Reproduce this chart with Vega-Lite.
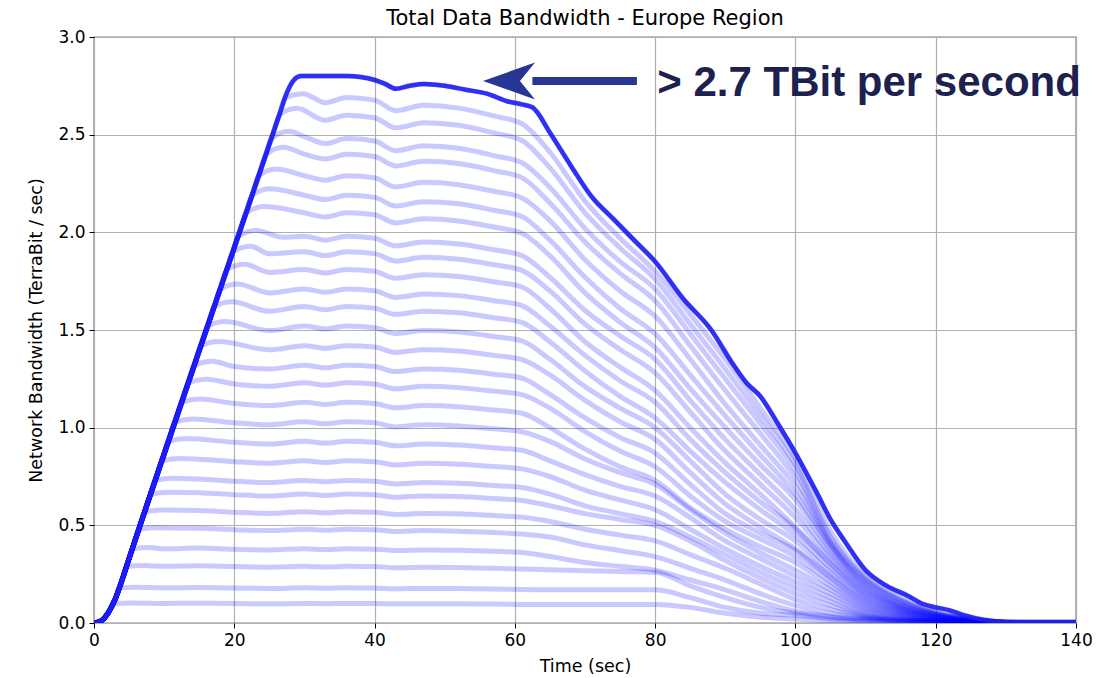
{
"$schema": "https://vega.github.io/schema/vega-lite/v6.json",
"width": 982, "height": 586,
"autosize": {"type": "none"},
"padding": {"left": 94, "top": 37, "right": 42, "bottom": 55},
"background": "white",
"title": {"text": "Total Data Bandwidth - Europe Region", "font": "DejaVu Sans", "fontSize": 21, "fontWeight": "normal", "color": "#000", "offset": 8, "dy": 9},
"config": {
 "view": {"stroke": "#000", "strokeWidth": 1.2},
 "axis": {"labelFont": "DejaVu Sans", "labelFontSize": 17, "labelColor": "#000", "titleFont": "DejaVu Sans", "titleFontSize": 17.5, "titleFontWeight": "normal", "titleColor": "#000", "tickColor": "#000", "tickSize": 5, "domain": false, "gridColor": "#b0b0b0", "gridWidth": 1.2, "labelPadding": 4, "labelFlush": false, "labelOverlap": false}
},
"datasets": {"lines": [
{"k":1,"t":0,"y":0},{"k":1,"t":1,"y":0.01},{"k":1,"t":2,"y":0.05},{"k":1,"t":2.7,"y":0.1},{"k":1,"t":5.2,"y":0.102},{"k":1,"t":10,"y":0.1},{"k":1,"t":15,"y":0.101},{"k":1,"t":20,"y":0.1},{"k":1,"t":25,"y":0.098},{"k":1,"t":30,"y":0.1},{"k":1,"t":33,"y":0.099},{"k":1,"t":36,"y":0.1},{"k":1,"t":40,"y":0.1},{"k":1,"t":43,"y":0.098},{"k":1,"t":47,"y":0.099},{"k":1,"t":52,"y":0.098},{"k":1,"t":57,"y":0.097},{"k":1,"t":61,"y":0.095},{"k":1,"t":65,"y":0.095},{"k":1,"t":70,"y":0.095},{"k":1,"t":75,"y":0.095},{"k":1,"t":80,"y":0.095},{"k":1,"t":85,"y":0.08},{"k":1,"t":90,"y":0.05},{"k":1,"t":95,"y":0.03},{"k":1,"t":100,"y":0.02},{"k":1,"t":105,"y":0.012},{"k":1,"t":110,"y":0.006},{"k":1,"t":115,"y":0.003},{"k":1,"t":120,"y":0.002},{"k":1,"t":125,"y":0.002},{"k":1,"t":130,"y":0.003},{"k":1,"t":140,"y":0.003},
{"k":2,"t":0,"y":0},{"k":2,"t":1,"y":0.01},{"k":2,"t":2,"y":0.05},{"k":2,"t":3,"y":0.12},{"k":2,"t":3.6,"y":0.18},{"k":2,"t":6.1,"y":0.183},{"k":2,"t":10,"y":0.18},{"k":2,"t":15,"y":0.182},{"k":2,"t":20,"y":0.179},{"k":2,"t":25,"y":0.177},{"k":2,"t":30,"y":0.18},{"k":2,"t":33,"y":0.178},{"k":2,"t":36,"y":0.18},{"k":2,"t":40,"y":0.179},{"k":2,"t":43,"y":0.175},{"k":2,"t":47,"y":0.177},{"k":2,"t":52,"y":0.176},{"k":2,"t":57,"y":0.174},{"k":2,"t":61,"y":0.171},{"k":2,"t":65,"y":0.17},{"k":2,"t":70,"y":0.17},{"k":2,"t":75,"y":0.17},{"k":2,"t":80,"y":0.17},{"k":2,"t":85,"y":0.13},{"k":2,"t":90,"y":0.08},{"k":2,"t":95,"y":0.05},{"k":2,"t":100,"y":0.04},{"k":2,"t":105,"y":0.02},{"k":2,"t":110,"y":0.01},{"k":2,"t":115,"y":0.005},{"k":2,"t":120,"y":0.003},{"k":2,"t":125,"y":0.002},{"k":2,"t":130,"y":0.003},{"k":2,"t":140,"y":0.003},
{"k":3,"t":0,"y":0},{"k":3,"t":1,"y":0.01},{"k":3,"t":2,"y":0.05},{"k":3,"t":3,"y":0.12},{"k":3,"t":4,"y":0.22},{"k":3,"t":4.64,"y":0.29},{"k":3,"t":7.1,"y":0.294},{"k":3,"t":10,"y":0.29},{"k":3,"t":15,"y":0.293},{"k":3,"t":20,"y":0.289},{"k":3,"t":25,"y":0.286},{"k":3,"t":30,"y":0.29},{"k":3,"t":33,"y":0.287},{"k":3,"t":36,"y":0.29},{"k":3,"t":40,"y":0.289},{"k":3,"t":43,"y":0.283},{"k":3,"t":47,"y":0.286},{"k":3,"t":52,"y":0.284},{"k":3,"t":57,"y":0.28},{"k":3,"t":61,"y":0.276},{"k":3,"t":65,"y":0.272},{"k":3,"t":70,"y":0.268},{"k":3,"t":75,"y":0.264},{"k":3,"t":80,"y":0.26},{"k":3,"t":85,"y":0.19},{"k":3,"t":90,"y":0.13},{"k":3,"t":95,"y":0.08},{"k":3,"t":100,"y":0.05},{"k":3,"t":105,"y":0.03},{"k":3,"t":110,"y":0.015},{"k":3,"t":115,"y":0.008},{"k":3,"t":120,"y":0.004},{"k":3,"t":125,"y":0.002},{"k":3,"t":130,"y":0.003},{"k":3,"t":140,"y":0.003},
{"k":4,"t":0,"y":0},{"k":4,"t":1,"y":0.01},{"k":4,"t":2,"y":0.05},{"k":4,"t":3,"y":0.12},{"k":4,"t":4,"y":0.22},{"k":4,"t":5,"y":0.33},{"k":4,"t":5.47,"y":0.38},{"k":4,"t":8,"y":0.386},{"k":4,"t":10,"y":0.38},{"k":4,"t":15,"y":0.384},{"k":4,"t":20,"y":0.378},{"k":4,"t":25,"y":0.374},{"k":4,"t":30,"y":0.38},{"k":4,"t":33,"y":0.376},{"k":4,"t":36,"y":0.38},{"k":4,"t":40,"y":0.378},{"k":4,"t":43,"y":0.371},{"k":4,"t":47,"y":0.374},{"k":4,"t":52,"y":0.372},{"k":4,"t":57,"y":0.367},{"k":4,"t":61,"y":0.361},{"k":4,"t":65,"y":0.34},{"k":4,"t":70,"y":0.31},{"k":4,"t":75,"y":0.29},{"k":4,"t":80,"y":0.27},{"k":4,"t":85,"y":0.22},{"k":4,"t":90,"y":0.17},{"k":4,"t":95,"y":0.11},{"k":4,"t":100,"y":0.06},{"k":4,"t":105,"y":0.035},{"k":4,"t":110,"y":0.02},{"k":4,"t":115,"y":0.01},{"k":4,"t":120,"y":0.005},{"k":4,"t":125,"y":0.002},{"k":4,"t":130,"y":0.003},{"k":4,"t":140,"y":0.003},
{"k":5,"t":0,"y":0},{"k":5,"t":1,"y":0.01},{"k":5,"t":2,"y":0.05},{"k":5,"t":3,"y":0.12},{"k":5,"t":4,"y":0.22},{"k":5,"t":5,"y":0.33},{"k":5,"t":5.42,"y":0.374},{"k":5,"t":6.42,"y":0.48},{"k":5,"t":8.9,"y":0.487},{"k":5,"t":15,"y":0.485},{"k":5,"t":20,"y":0.478},{"k":5,"t":25,"y":0.473},{"k":5,"t":30,"y":0.48},{"k":5,"t":33,"y":0.475},{"k":5,"t":36,"y":0.48},{"k":5,"t":40,"y":0.478},{"k":5,"t":43,"y":0.468},{"k":5,"t":47,"y":0.473},{"k":5,"t":52,"y":0.47},{"k":5,"t":57,"y":0.463},{"k":5,"t":61,"y":0.456},{"k":5,"t":65,"y":0.44},{"k":5,"t":70,"y":0.4},{"k":5,"t":75,"y":0.37},{"k":5,"t":80,"y":0.34},{"k":5,"t":85,"y":0.28},{"k":5,"t":90,"y":0.22},{"k":5,"t":95,"y":0.15},{"k":5,"t":100,"y":0.09},{"k":5,"t":105,"y":0.05},{"k":5,"t":110,"y":0.025},{"k":5,"t":115,"y":0.012},{"k":5,"t":120,"y":0.006},{"k":5,"t":125,"y":0.002},{"k":5,"t":130,"y":0.003},{"k":5,"t":140,"y":0.003},
{"k":6,"t":0,"y":0},{"k":6,"t":1,"y":0.01},{"k":6,"t":2,"y":0.05},{"k":6,"t":3,"y":0.12},{"k":6,"t":4,"y":0.22},{"k":6,"t":5,"y":0.33},{"k":6,"t":6.26,"y":0.464},{"k":6,"t":7.26,"y":0.57},{"k":6,"t":9.8,"y":0.579},{"k":6,"t":15,"y":0.576},{"k":6,"t":20,"y":0.567},{"k":6,"t":25,"y":0.561},{"k":6,"t":30,"y":0.57},{"k":6,"t":33,"y":0.564},{"k":6,"t":36,"y":0.57},{"k":6,"t":40,"y":0.567},{"k":6,"t":43,"y":0.556},{"k":6,"t":47,"y":0.561},{"k":6,"t":52,"y":0.559},{"k":6,"t":57,"y":0.55},{"k":6,"t":61,"y":0.542},{"k":6,"t":65,"y":0.52},{"k":6,"t":70,"y":0.48},{"k":6,"t":75,"y":0.45},{"k":6,"t":80,"y":0.42},{"k":6,"t":85,"y":0.35},{"k":6,"t":90,"y":0.28},{"k":6,"t":95,"y":0.2},{"k":6,"t":100,"y":0.12},{"k":6,"t":105,"y":0.07},{"k":6,"t":110,"y":0.03},{"k":6,"t":115,"y":0.015},{"k":6,"t":120,"y":0.007},{"k":6,"t":125,"y":0.003},{"k":6,"t":130,"y":0.003},{"k":6,"t":140,"y":0.003},
{"k":7,"t":0,"y":0},{"k":7,"t":1,"y":0.01},{"k":7,"t":2,"y":0.05},{"k":7,"t":3,"y":0.12},{"k":7,"t":4,"y":0.22},{"k":7,"t":5,"y":0.33},{"k":7,"t":7.11,"y":0.554},{"k":7,"t":8.11,"y":0.66},{"k":7,"t":10.6,"y":0.67},{"k":7,"t":15,"y":0.667},{"k":7,"t":20,"y":0.657},{"k":7,"t":25,"y":0.65},{"k":7,"t":30,"y":0.66},{"k":7,"t":33,"y":0.653},{"k":7,"t":36,"y":0.66},{"k":7,"t":40,"y":0.657},{"k":7,"t":43,"y":0.644},{"k":7,"t":47,"y":0.65},{"k":7,"t":52,"y":0.647},{"k":7,"t":57,"y":0.637},{"k":7,"t":61,"y":0.627},{"k":7,"t":65,"y":0.6},{"k":7,"t":70,"y":0.56},{"k":7,"t":75,"y":0.53},{"k":7,"t":80,"y":0.5},{"k":7,"t":85,"y":0.42},{"k":7,"t":90,"y":0.32},{"k":7,"t":95,"y":0.23},{"k":7,"t":100,"y":0.15},{"k":7,"t":105,"y":0.09},{"k":7,"t":110,"y":0.035},{"k":7,"t":115,"y":0.018},{"k":7,"t":120,"y":0.008},{"k":7,"t":125,"y":0.003},{"k":7,"t":130,"y":0.003},{"k":7,"t":140,"y":0.003},
{"k":8,"t":0,"y":0},{"k":8,"t":1,"y":0.01},{"k":8,"t":2,"y":0.05},{"k":8,"t":3,"y":0.12},{"k":8,"t":4,"y":0.22},{"k":8,"t":5,"y":0.33},{"k":8,"t":7.77,"y":0.624},{"k":8,"t":8.77,"y":0.73},{"k":8,"t":11.3,"y":0.741},{"k":8,"t":15,"y":0.737},{"k":8,"t":20,"y":0.726},{"k":8,"t":25,"y":0.719},{"k":8,"t":30,"y":0.73},{"k":8,"t":33,"y":0.723},{"k":8,"t":36,"y":0.73},{"k":8,"t":40,"y":0.726},{"k":8,"t":43,"y":0.712},{"k":8,"t":47,"y":0.719},{"k":8,"t":52,"y":0.715},{"k":8,"t":57,"y":0.704},{"k":8,"t":61,"y":0.694},{"k":8,"t":65,"y":0.66},{"k":8,"t":70,"y":0.6},{"k":8,"t":75,"y":0.56},{"k":8,"t":80,"y":0.52},{"k":8,"t":85,"y":0.44},{"k":8,"t":90,"y":0.35},{"k":8,"t":95,"y":0.26},{"k":8,"t":100,"y":0.18},{"k":8,"t":105,"y":0.11},{"k":8,"t":110,"y":0.04},{"k":8,"t":115,"y":0.02},{"k":8,"t":120,"y":0.009},{"k":8,"t":125,"y":0.003},{"k":8,"t":130,"y":0.003},{"k":8,"t":140,"y":0.003},
{"k":9,"t":0,"y":0},{"k":9,"t":1,"y":0.01},{"k":9,"t":2,"y":0.05},{"k":9,"t":3,"y":0.12},{"k":9,"t":4,"y":0.22},{"k":9,"t":5,"y":0.33},{"k":9,"t":8.72,"y":0.724},{"k":9,"t":9.72,"y":0.83},{"k":9,"t":12.2,"y":0.842},{"k":9,"t":15,"y":0.838},{"k":9,"t":20,"y":0.826},{"k":9,"t":25,"y":0.818},{"k":9,"t":30,"y":0.83},{"k":9,"t":33,"y":0.822},{"k":9,"t":36,"y":0.83},{"k":9,"t":40,"y":0.826},{"k":9,"t":43,"y":0.809},{"k":9,"t":47,"y":0.818},{"k":9,"t":52,"y":0.813},{"k":9,"t":57,"y":0.801},{"k":9,"t":61,"y":0.789},{"k":9,"t":65,"y":0.75},{"k":9,"t":70,"y":0.68},{"k":9,"t":75,"y":0.63},{"k":9,"t":80,"y":0.58},{"k":9,"t":85,"y":0.48},{"k":9,"t":90,"y":0.38},{"k":9,"t":95,"y":0.29},{"k":9,"t":100,"y":0.21},{"k":9,"t":105,"y":0.13},{"k":9,"t":110,"y":0.05},{"k":9,"t":115,"y":0.025},{"k":9,"t":120,"y":0.01},{"k":9,"t":125,"y":0.004},{"k":9,"t":130,"y":0.003},{"k":9,"t":140,"y":0.003},
{"k":10,"t":0,"y":0},{"k":10,"t":1,"y":0.01},{"k":10,"t":2,"y":0.05},{"k":10,"t":3,"y":0.12},{"k":10,"t":4,"y":0.22},{"k":10,"t":5,"y":0.33},{"k":10,"t":9.66,"y":0.824},{"k":10,"t":10.66,"y":0.93},{"k":10,"t":13.2,"y":0.944},{"k":10,"t":20,"y":0.925},{"k":10,"t":25,"y":0.916},{"k":10,"t":30,"y":0.93},{"k":10,"t":33,"y":0.921},{"k":10,"t":36,"y":0.93},{"k":10,"t":40,"y":0.925},{"k":10,"t":43,"y":0.907},{"k":10,"t":47,"y":0.916},{"k":10,"t":52,"y":0.911},{"k":10,"t":57,"y":0.897},{"k":10,"t":61,"y":0.884},{"k":10,"t":65,"y":0.83},{"k":10,"t":70,"y":0.76},{"k":10,"t":75,"y":0.7},{"k":10,"t":80,"y":0.65},{"k":10,"t":85,"y":0.54},{"k":10,"t":90,"y":0.42},{"k":10,"t":95,"y":0.33},{"k":10,"t":100,"y":0.24},{"k":10,"t":105,"y":0.15},{"k":10,"t":110,"y":0.06},{"k":10,"t":115,"y":0.03},{"k":10,"t":120,"y":0.012},{"k":10,"t":125,"y":0.004},{"k":10,"t":130,"y":0.003},{"k":10,"t":140,"y":0.003},
{"k":11,"t":0,"y":0},{"k":11,"t":1,"y":0.01},{"k":11,"t":2,"y":0.05},{"k":11,"t":3,"y":0.12},{"k":11,"t":4,"y":0.22},{"k":11,"t":5,"y":0.33},{"k":11,"t":10.6,"y":0.924},{"k":11,"t":11.6,"y":1.03},{"k":11,"t":14.1,"y":1.045},{"k":11,"t":20,"y":1.025},{"k":11,"t":25,"y":1.015},{"k":11,"t":30,"y":1.03},{"k":11,"t":33,"y":1.02},{"k":11,"t":36,"y":1.03},{"k":11,"t":40,"y":1.025},{"k":11,"t":43,"y":1.004},{"k":11,"t":47,"y":1.015},{"k":11,"t":52,"y":1.009},{"k":11,"t":57,"y":0.994},{"k":11,"t":61,"y":0.979},{"k":11,"t":65,"y":0.93},{"k":11,"t":70,"y":0.84},{"k":11,"t":75,"y":0.77},{"k":11,"t":80,"y":0.71},{"k":11,"t":85,"y":0.58},{"k":11,"t":90,"y":0.46},{"k":11,"t":95,"y":0.36},{"k":11,"t":100,"y":0.27},{"k":11,"t":105,"y":0.17},{"k":11,"t":110,"y":0.07},{"k":11,"t":115,"y":0.035},{"k":11,"t":120,"y":0.014},{"k":11,"t":125,"y":0.005},{"k":11,"t":130,"y":0.003},{"k":11,"t":140,"y":0.003},
{"k":12,"t":0,"y":0},{"k":12,"t":1,"y":0.01},{"k":12,"t":2,"y":0.05},{"k":12,"t":3,"y":0.12},{"k":12,"t":4,"y":0.22},{"k":12,"t":5,"y":0.33},{"k":12,"t":11.55,"y":1.024},{"k":12,"t":12.55,"y":1.13},{"k":12,"t":15.05,"y":1.147},{"k":12,"t":20,"y":1.124},{"k":12,"t":25,"y":1.113},{"k":12,"t":30,"y":1.13},{"k":12,"t":33,"y":1.119},{"k":12,"t":36,"y":1.13},{"k":12,"t":40,"y":1.124},{"k":12,"t":43,"y":1.102},{"k":12,"t":47,"y":1.113},{"k":12,"t":52,"y":1.107},{"k":12,"t":57,"y":1.09},{"k":12,"t":61,"y":1.074},{"k":12,"t":65,"y":1.0},{"k":12,"t":70,"y":0.89},{"k":12,"t":75,"y":0.8},{"k":12,"t":80,"y":0.73},{"k":12,"t":85,"y":0.59},{"k":12,"t":90,"y":0.48},{"k":12,"t":95,"y":0.39},{"k":12,"t":100,"y":0.31},{"k":12,"t":105,"y":0.19},{"k":12,"t":110,"y":0.08},{"k":12,"t":115,"y":0.04},{"k":12,"t":120,"y":0.016},{"k":12,"t":125,"y":0.006},{"k":12,"t":130,"y":0.003},{"k":12,"t":140,"y":0.003},
{"k":13,"t":0,"y":0},{"k":13,"t":1,"y":0.01},{"k":13,"t":2,"y":0.05},{"k":13,"t":3,"y":0.12},{"k":13,"t":4,"y":0.22},{"k":13,"t":5,"y":0.33},{"k":13,"t":12.49,"y":1.124},{"k":13,"t":13.49,"y":1.23},{"k":13,"t":16,"y":1.248},{"k":13,"t":20,"y":1.224},{"k":13,"t":25,"y":1.212},{"k":13,"t":30,"y":1.23},{"k":13,"t":33,"y":1.218},{"k":13,"t":36,"y":1.23},{"k":13,"t":40,"y":1.224},{"k":13,"t":43,"y":1.199},{"k":13,"t":47,"y":1.212},{"k":13,"t":52,"y":1.205},{"k":13,"t":57,"y":1.187},{"k":13,"t":61,"y":1.169},{"k":13,"t":65,"y":1.1},{"k":13,"t":70,"y":0.98},{"k":13,"t":75,"y":0.88},{"k":13,"t":80,"y":0.8},{"k":13,"t":85,"y":0.65},{"k":13,"t":90,"y":0.52},{"k":13,"t":95,"y":0.43},{"k":13,"t":100,"y":0.34},{"k":13,"t":105,"y":0.21},{"k":13,"t":110,"y":0.09},{"k":13,"t":115,"y":0.045},{"k":13,"t":120,"y":0.018},{"k":13,"t":125,"y":0.006},{"k":13,"t":130,"y":0.003},{"k":13,"t":140,"y":0.003},
{"k":14,"t":0,"y":0},{"k":14,"t":1,"y":0.01},{"k":14,"t":2,"y":0.05},{"k":14,"t":3,"y":0.12},{"k":14,"t":4,"y":0.22},{"k":14,"t":5,"y":0.33},{"k":14,"t":13.34,"y":1.214},{"k":14,"t":14.34,"y":1.32},{"k":14,"t":16.84,"y":1.34},{"k":14,"t":20,"y":1.313},{"k":14,"t":25,"y":1.3},{"k":14,"t":30,"y":1.32},{"k":14,"t":33,"y":1.307},{"k":14,"t":36,"y":1.32},{"k":14,"t":40,"y":1.313},{"k":14,"t":43,"y":1.287},{"k":14,"t":47,"y":1.3},{"k":14,"t":52,"y":1.294},{"k":14,"t":57,"y":1.274},{"k":14,"t":61,"y":1.254},{"k":14,"t":65,"y":1.17},{"k":14,"t":70,"y":1.05},{"k":14,"t":75,"y":0.95},{"k":14,"t":80,"y":0.87},{"k":14,"t":85,"y":0.71},{"k":14,"t":90,"y":0.56},{"k":14,"t":95,"y":0.46},{"k":14,"t":100,"y":0.37},{"k":14,"t":105,"y":0.23},{"k":14,"t":110,"y":0.1},{"k":14,"t":115,"y":0.05},{"k":14,"t":120,"y":0.02},{"k":14,"t":125,"y":0.007},{"k":14,"t":130,"y":0.003},{"k":14,"t":140,"y":0.003},
{"k":15,"t":0,"y":0},{"k":15,"t":1,"y":0.01},{"k":15,"t":2,"y":0.05},{"k":15,"t":3,"y":0.12},{"k":15,"t":4,"y":0.22},{"k":15,"t":5,"y":0.33},{"k":15,"t":14.28,"y":1.314},{"k":15,"t":15.28,"y":1.42},{"k":15,"t":17.8,"y":1.441},{"k":15,"t":25,"y":1.399},{"k":15,"t":30,"y":1.42},{"k":15,"t":33,"y":1.406},{"k":15,"t":36,"y":1.42},{"k":15,"t":40,"y":1.413},{"k":15,"t":43,"y":1.385},{"k":15,"t":47,"y":1.399},{"k":15,"t":52,"y":1.392},{"k":15,"t":57,"y":1.37},{"k":15,"t":61,"y":1.349},{"k":15,"t":65,"y":1.27},{"k":15,"t":70,"y":1.14},{"k":15,"t":75,"y":1.03},{"k":15,"t":80,"y":0.94},{"k":15,"t":85,"y":0.77},{"k":15,"t":90,"y":0.61},{"k":15,"t":95,"y":0.49},{"k":15,"t":100,"y":0.38},{"k":15,"t":105,"y":0.24},{"k":15,"t":110,"y":0.11},{"k":15,"t":115,"y":0.055},{"k":15,"t":120,"y":0.022},{"k":15,"t":125,"y":0.008},{"k":15,"t":130,"y":0.003},{"k":15,"t":140,"y":0.003},
{"k":16,"t":0,"y":0},{"k":16,"t":1,"y":0.01},{"k":16,"t":2,"y":0.05},{"k":16,"t":3,"y":0.12},{"k":16,"t":4,"y":0.22},{"k":16,"t":5,"y":0.33},{"k":16,"t":15.23,"y":1.414},{"k":16,"t":16.23,"y":1.52},{"k":16,"t":18.7,"y":1.543},{"k":16,"t":25,"y":1.497},{"k":16,"t":30,"y":1.52},{"k":16,"t":33,"y":1.505},{"k":16,"t":36,"y":1.52},{"k":16,"t":40,"y":1.512},{"k":16,"t":43,"y":1.482},{"k":16,"t":47,"y":1.497},{"k":16,"t":52,"y":1.49},{"k":16,"t":57,"y":1.467},{"k":16,"t":61,"y":1.444},{"k":16,"t":65,"y":1.35},{"k":16,"t":70,"y":1.21},{"k":16,"t":75,"y":1.1},{"k":16,"t":80,"y":1.0},{"k":16,"t":85,"y":0.83},{"k":16,"t":90,"y":0.66},{"k":16,"t":95,"y":0.53},{"k":16,"t":100,"y":0.42},{"k":16,"t":105,"y":0.26},{"k":16,"t":110,"y":0.12},{"k":16,"t":115,"y":0.06},{"k":16,"t":120,"y":0.025},{"k":16,"t":125,"y":0.009},{"k":16,"t":130,"y":0.003},{"k":16,"t":140,"y":0.003},
{"k":17,"t":0,"y":0},{"k":17,"t":1,"y":0.01},{"k":17,"t":2,"y":0.05},{"k":17,"t":3,"y":0.12},{"k":17,"t":4,"y":0.22},{"k":17,"t":5,"y":0.33},{"k":17,"t":16.17,"y":1.514},{"k":17,"t":17.17,"y":1.62},{"k":17,"t":19.7,"y":1.644},{"k":17,"t":25,"y":1.596},{"k":17,"t":30,"y":1.62},{"k":17,"t":33,"y":1.604},{"k":17,"t":36,"y":1.62},{"k":17,"t":40,"y":1.612},{"k":17,"t":43,"y":1.58},{"k":17,"t":47,"y":1.596},{"k":17,"t":52,"y":1.588},{"k":17,"t":57,"y":1.563},{"k":17,"t":61,"y":1.539},{"k":17,"t":65,"y":1.44},{"k":17,"t":70,"y":1.29},{"k":17,"t":75,"y":1.16},{"k":17,"t":80,"y":1.05},{"k":17,"t":85,"y":0.88},{"k":17,"t":90,"y":0.72},{"k":17,"t":95,"y":0.58},{"k":17,"t":100,"y":0.45},{"k":17,"t":105,"y":0.28},{"k":17,"t":110,"y":0.13},{"k":17,"t":115,"y":0.065},{"k":17,"t":120,"y":0.028},{"k":17,"t":125,"y":0.01},{"k":17,"t":130,"y":0.003},{"k":17,"t":140,"y":0.003},
{"k":18,"t":0,"y":0},{"k":18,"t":1,"y":0.01},{"k":18,"t":2,"y":0.05},{"k":18,"t":3,"y":0.12},{"k":18,"t":4,"y":0.22},{"k":18,"t":5,"y":0.33},{"k":18,"t":17.02,"y":1.604},{"k":18,"t":18.02,"y":1.71},{"k":18,"t":20.5,"y":1.736},{"k":18,"t":25,"y":1.69},{"k":18,"t":30,"y":1.71},{"k":18,"t":33,"y":1.693},{"k":18,"t":36,"y":1.71},{"k":18,"t":40,"y":1.701},{"k":18,"t":43,"y":1.667},{"k":18,"t":47,"y":1.684},{"k":18,"t":52,"y":1.676},{"k":18,"t":57,"y":1.65},{"k":18,"t":61,"y":1.625},{"k":18,"t":65,"y":1.52},{"k":18,"t":70,"y":1.37},{"k":18,"t":75,"y":1.24},{"k":18,"t":80,"y":1.13},{"k":18,"t":85,"y":0.94},{"k":18,"t":90,"y":0.77},{"k":18,"t":95,"y":0.62},{"k":18,"t":100,"y":0.48},{"k":18,"t":105,"y":0.3},{"k":18,"t":110,"y":0.14},{"k":18,"t":115,"y":0.07},{"k":18,"t":120,"y":0.03},{"k":18,"t":125,"y":0.011},{"k":18,"t":130,"y":0.003},{"k":18,"t":140,"y":0.003},
{"k":19,"t":0,"y":0},{"k":19,"t":1,"y":0.01},{"k":19,"t":2,"y":0.05},{"k":19,"t":3,"y":0.12},{"k":19,"t":4,"y":0.22},{"k":19,"t":5,"y":0.33},{"k":19,"t":17.96,"y":1.704},{"k":19,"t":18.96,"y":1.81},{"k":19,"t":21.5,"y":1.837},{"k":19,"t":25,"y":1.795},{"k":19,"t":30,"y":1.81},{"k":19,"t":33,"y":1.792},{"k":19,"t":36,"y":1.81},{"k":19,"t":40,"y":1.801},{"k":19,"t":43,"y":1.765},{"k":19,"t":47,"y":1.783},{"k":19,"t":52,"y":1.774},{"k":19,"t":57,"y":1.747},{"k":19,"t":61,"y":1.72},{"k":19,"t":65,"y":1.61},{"k":19,"t":70,"y":1.44},{"k":19,"t":75,"y":1.31},{"k":19,"t":80,"y":1.19},{"k":19,"t":85,"y":1.0},{"k":19,"t":90,"y":0.82},{"k":19,"t":95,"y":0.66},{"k":19,"t":100,"y":0.49},{"k":19,"t":105,"y":0.31},{"k":19,"t":110,"y":0.15},{"k":19,"t":115,"y":0.075},{"k":19,"t":120,"y":0.032},{"k":19,"t":125,"y":0.012},{"k":19,"t":130,"y":0.003},{"k":19,"t":140,"y":0.003},
{"k":20,"t":0,"y":0},{"k":20,"t":1,"y":0.01},{"k":20,"t":2,"y":0.05},{"k":20,"t":3,"y":0.12},{"k":20,"t":4,"y":0.22},{"k":20,"t":5,"y":0.33},{"k":20,"t":18.81,"y":1.794},{"k":20,"t":19.81,"y":1.9},{"k":20,"t":22.3,"y":1.929},{"k":20,"t":25,"y":1.89},{"k":20,"t":30,"y":1.9},{"k":20,"t":33,"y":1.881},{"k":20,"t":36,"y":1.9},{"k":20,"t":40,"y":1.891},{"k":20,"t":43,"y":1.853},{"k":20,"t":47,"y":1.872},{"k":20,"t":52,"y":1.862},{"k":20,"t":57,"y":1.834},{"k":20,"t":61,"y":1.805},{"k":20,"t":65,"y":1.7},{"k":20,"t":70,"y":1.53},{"k":20,"t":75,"y":1.4},{"k":20,"t":80,"y":1.28},{"k":20,"t":85,"y":1.08},{"k":20,"t":90,"y":0.88},{"k":20,"t":95,"y":0.71},{"k":20,"t":100,"y":0.54},{"k":20,"t":105,"y":0.33},{"k":20,"t":110,"y":0.16},{"k":20,"t":115,"y":0.08},{"k":20,"t":120,"y":0.035},{"k":20,"t":125,"y":0.013},{"k":20,"t":130,"y":0.003},{"k":20,"t":140,"y":0.003},
{"k":21,"t":0,"y":0},{"k":21,"t":1,"y":0.01},{"k":21,"t":2,"y":0.05},{"k":21,"t":3,"y":0.12},{"k":21,"t":4,"y":0.22},{"k":21,"t":5,"y":0.33},{"k":21,"t":19.57,"y":1.874},{"k":21,"t":20.57,"y":1.98},{"k":21,"t":23.1,"y":2.01},{"k":21,"t":27,"y":1.975},{"k":21,"t":30,"y":1.98},{"k":21,"t":33,"y":1.96},{"k":21,"t":36,"y":1.98},{"k":21,"t":40,"y":1.97},{"k":21,"t":43,"y":1.931},{"k":21,"t":47,"y":1.95},{"k":21,"t":52,"y":1.94},{"k":21,"t":57,"y":1.911},{"k":21,"t":61,"y":1.881},{"k":21,"t":65,"y":1.77},{"k":21,"t":70,"y":1.6},{"k":21,"t":75,"y":1.47},{"k":21,"t":80,"y":1.35},{"k":21,"t":85,"y":1.14},{"k":21,"t":90,"y":0.94},{"k":21,"t":95,"y":0.76},{"k":21,"t":100,"y":0.58},{"k":21,"t":105,"y":0.35},{"k":21,"t":110,"y":0.17},{"k":21,"t":115,"y":0.085},{"k":21,"t":120,"y":0.037},{"k":21,"t":125,"y":0.014},{"k":21,"t":130,"y":0.003},{"k":21,"t":140,"y":0.003},
{"k":22,"t":0,"y":0},{"k":22,"t":1,"y":0.01},{"k":22,"t":2,"y":0.05},{"k":22,"t":3,"y":0.12},{"k":22,"t":4,"y":0.22},{"k":22,"t":5,"y":0.33},{"k":22,"t":20.7,"y":1.994},{"k":22,"t":21.7,"y":2.1},{"k":22,"t":24.2,"y":2.132},{"k":22,"t":30,"y":2.1},{"k":22,"t":33,"y":2.079},{"k":22,"t":36,"y":2.1},{"k":22,"t":40,"y":2.09},{"k":22,"t":43,"y":2.048},{"k":22,"t":47,"y":2.069},{"k":22,"t":52,"y":2.058},{"k":22,"t":57,"y":2.027},{"k":22,"t":61,"y":1.995},{"k":22,"t":65,"y":1.88},{"k":22,"t":70,"y":1.69},{"k":22,"t":75,"y":1.54},{"k":22,"t":80,"y":1.41},{"k":22,"t":85,"y":1.2},{"k":22,"t":90,"y":1.0},{"k":22,"t":95,"y":0.81},{"k":22,"t":100,"y":0.63},{"k":22,"t":105,"y":0.37},{"k":22,"t":110,"y":0.18},{"k":22,"t":115,"y":0.09},{"k":22,"t":120,"y":0.04},{"k":22,"t":125,"y":0.015},{"k":22,"t":130,"y":0.003},{"k":22,"t":140,"y":0.003},
{"k":23,"t":0,"y":0},{"k":23,"t":1,"y":0.01},{"k":23,"t":2,"y":0.05},{"k":23,"t":3,"y":0.12},{"k":23,"t":4,"y":0.22},{"k":23,"t":5,"y":0.33},{"k":23,"t":21.55,"y":2.084},{"k":23,"t":22.55,"y":2.19},{"k":23,"t":25.05,"y":2.223},{"k":23,"t":30,"y":2.19},{"k":23,"t":33,"y":2.168},{"k":23,"t":36,"y":2.19},{"k":23,"t":40,"y":2.179},{"k":23,"t":43,"y":2.135},{"k":23,"t":47,"y":2.157},{"k":23,"t":52,"y":2.146},{"k":23,"t":57,"y":2.113},{"k":23,"t":61,"y":2.081},{"k":23,"t":65,"y":1.96},{"k":23,"t":70,"y":1.77},{"k":23,"t":75,"y":1.61},{"k":23,"t":80,"y":1.48},{"k":23,"t":85,"y":1.27},{"k":23,"t":90,"y":1.06},{"k":23,"t":95,"y":0.86},{"k":23,"t":100,"y":0.66},{"k":23,"t":105,"y":0.39},{"k":23,"t":110,"y":0.19},{"k":23,"t":115,"y":0.095},{"k":23,"t":120,"y":0.042},{"k":23,"t":125,"y":0.016},{"k":23,"t":130,"y":0.003},{"k":23,"t":140,"y":0.003},
{"k":24,"t":0,"y":0},{"k":24,"t":1,"y":0.01},{"k":24,"t":2,"y":0.05},{"k":24,"t":3,"y":0.12},{"k":24,"t":4,"y":0.22},{"k":24,"t":5,"y":0.33},{"k":24,"t":22.49,"y":2.184},{"k":24,"t":23.49,"y":2.29},{"k":24,"t":26,"y":2.324},{"k":24,"t":30,"y":2.29},{"k":24,"t":33,"y":2.267},{"k":24,"t":36,"y":2.29},{"k":24,"t":40,"y":2.279},{"k":24,"t":43,"y":2.233},{"k":24,"t":47,"y":2.256},{"k":24,"t":52,"y":2.244},{"k":24,"t":57,"y":2.21},{"k":24,"t":61,"y":2.176},{"k":24,"t":65,"y":2.06},{"k":24,"t":70,"y":1.86},{"k":24,"t":75,"y":1.7},{"k":24,"t":80,"y":1.57},{"k":24,"t":85,"y":1.35},{"k":24,"t":90,"y":1.12},{"k":24,"t":95,"y":0.91},{"k":24,"t":100,"y":0.7},{"k":24,"t":105,"y":0.4},{"k":24,"t":110,"y":0.2},{"k":24,"t":115,"y":0.1},{"k":24,"t":120,"y":0.045},{"k":24,"t":125,"y":0.017},{"k":24,"t":130,"y":0.003},{"k":24,"t":140,"y":0.003},
{"k":25,"t":0,"y":0},{"k":25,"t":1,"y":0.01},{"k":25,"t":2,"y":0.05},{"k":25,"t":3,"y":0.12},{"k":25,"t":4,"y":0.22},{"k":25,"t":5,"y":0.33},{"k":25,"t":23.53,"y":2.294},{"k":25,"t":24.53,"y":2.4},{"k":25,"t":27,"y":2.436},{"k":25,"t":30,"y":2.4},{"k":25,"t":33,"y":2.376},{"k":25,"t":36,"y":2.4},{"k":25,"t":40,"y":2.388},{"k":25,"t":43,"y":2.34},{"k":25,"t":47,"y":2.364},{"k":25,"t":52,"y":2.352},{"k":25,"t":57,"y":2.316},{"k":25,"t":61,"y":2.28},{"k":25,"t":65,"y":2.15},{"k":25,"t":70,"y":1.95},{"k":25,"t":75,"y":1.79},{"k":25,"t":80,"y":1.65},{"k":25,"t":85,"y":1.42},{"k":25,"t":90,"y":1.19},{"k":25,"t":95,"y":0.97},{"k":25,"t":100,"y":0.74},{"k":25,"t":105,"y":0.41},{"k":25,"t":110,"y":0.21},{"k":25,"t":115,"y":0.11},{"k":25,"t":120,"y":0.048},{"k":25,"t":125,"y":0.018},{"k":25,"t":130,"y":0.003},{"k":25,"t":140,"y":0.003},
{"k":26,"t":0,"y":0},{"k":26,"t":1,"y":0.01},{"k":26,"t":2,"y":0.05},{"k":26,"t":3,"y":0.12},{"k":26,"t":4,"y":0.22},{"k":26,"t":5,"y":0.33},{"k":26,"t":24.28,"y":2.374},{"k":26,"t":25.28,"y":2.48},{"k":26,"t":27.8,"y":2.517},{"k":26,"t":30,"y":2.49},{"k":26,"t":33,"y":2.455},{"k":26,"t":36,"y":2.48},{"k":26,"t":40,"y":2.468},{"k":26,"t":43,"y":2.418},{"k":26,"t":47,"y":2.443},{"k":26,"t":52,"y":2.43},{"k":26,"t":57,"y":2.393},{"k":26,"t":61,"y":2.356},{"k":26,"t":65,"y":2.23},{"k":26,"t":70,"y":2.02},{"k":26,"t":75,"y":1.85},{"k":26,"t":80,"y":1.71},{"k":26,"t":85,"y":1.48},{"k":26,"t":90,"y":1.25},{"k":26,"t":95,"y":1.02},{"k":26,"t":100,"y":0.78},{"k":26,"t":105,"y":0.42},{"k":26,"t":110,"y":0.22},{"k":26,"t":115,"y":0.115},{"k":26,"t":120,"y":0.05},{"k":26,"t":125,"y":0.019},{"k":26,"t":130,"y":0.003},{"k":26,"t":140,"y":0.003},
{"k":27,"t":0,"y":0},{"k":27,"t":1,"y":0.01},{"k":27,"t":2,"y":0.05},{"k":27,"t":3,"y":0.12},{"k":27,"t":4,"y":0.22},{"k":27,"t":5,"y":0.33},{"k":27,"t":25.42,"y":2.494},{"k":27,"t":26.42,"y":2.6},{"k":27,"t":28.9,"y":2.635},{"k":27,"t":33,"y":2.574},{"k":27,"t":36,"y":2.6},{"k":27,"t":40,"y":2.587},{"k":27,"t":43,"y":2.535},{"k":27,"t":47,"y":2.561},{"k":27,"t":52,"y":2.548},{"k":27,"t":57,"y":2.509},{"k":27,"t":61,"y":2.47},{"k":27,"t":65,"y":2.33},{"k":27,"t":70,"y":2.1},{"k":27,"t":75,"y":1.92},{"k":27,"t":80,"y":1.76},{"k":27,"t":85,"y":1.53},{"k":27,"t":90,"y":1.3},{"k":27,"t":95,"y":1.06},{"k":27,"t":100,"y":0.81},{"k":27,"t":105,"y":0.44},{"k":27,"t":110,"y":0.23},{"k":27,"t":115,"y":0.12},{"k":27,"t":120,"y":0.055},{"k":27,"t":125,"y":0.02},{"k":27,"t":130,"y":0.003},{"k":27,"t":140,"y":0.003},
{"k":28,"t":0,"y":0},{"k":28,"t":1,"y":0.01},{"k":28,"t":2,"y":0.05},{"k":28,"t":3,"y":0.12},{"k":28,"t":4,"y":0.22},{"k":28,"t":5,"y":0.33},{"k":28,"t":26.26,"y":2.584},{"k":28,"t":27.26,"y":2.69},{"k":28,"t":29.8,"y":2.71},{"k":28,"t":33,"y":2.663},{"k":28,"t":36,"y":2.69},{"k":28,"t":40,"y":2.677},{"k":28,"t":43,"y":2.623},{"k":28,"t":47,"y":2.65},{"k":28,"t":52,"y":2.636},{"k":28,"t":57,"y":2.596},{"k":28,"t":61,"y":2.556},{"k":28,"t":65,"y":2.41},{"k":28,"t":70,"y":2.16},{"k":28,"t":75,"y":1.97},{"k":28,"t":80,"y":1.8},{"k":28,"t":85,"y":1.58},{"k":28,"t":90,"y":1.35},{"k":28,"t":95,"y":1.1},{"k":28,"t":100,"y":0.84},{"k":28,"t":105,"y":0.47},{"k":28,"t":110,"y":0.24},{"k":28,"t":115,"y":0.13},{"k":28,"t":120,"y":0.06},{"k":28,"t":125,"y":0.022},{"k":28,"t":130,"y":0.003},{"k":28,"t":140,"y":0.003},
{"k":29,"t":0,"y":0},{"k":29,"t":1,"y":0.01},{"k":29,"t":2,"y":0.05},{"k":29,"t":3,"y":0.12},{"k":29,"t":4,"y":0.22},{"k":29,"t":5,"y":0.33},{"k":29,"t":16,"y":1.496},{"k":29,"t":26.5,"y":2.61},{"k":29,"t":27.5,"y":2.715},{"k":29,"t":28.5,"y":2.78},{"k":29,"t":29.5,"y":2.8},{"k":29,"t":33,"y":2.8},{"k":29,"t":36,"y":2.8},{"k":29,"t":38,"y":2.795},{"k":29,"t":40,"y":2.78},{"k":29,"t":41.5,"y":2.76},{"k":29,"t":43,"y":2.735},{"k":29,"t":45,"y":2.75},{"k":29,"t":47,"y":2.76},{"k":29,"t":50,"y":2.75},{"k":29,"t":53,"y":2.73},{"k":29,"t":56,"y":2.71},{"k":29,"t":59,"y":2.67},{"k":29,"t":61,"y":2.655},{"k":29,"t":62.5,"y":2.64},{"k":29,"t":65,"y":2.51},{"k":29,"t":68,"y":2.34},{"k":29,"t":71,"y":2.18},{"k":29,"t":74,"y":2.07},{"k":29,"t":77,"y":1.96},{"k":29,"t":80,"y":1.85},{"k":29,"t":84,"y":1.66},{"k":29,"t":88,"y":1.5},{"k":29,"t":91,"y":1.33},{"k":29,"t":93,"y":1.23},{"k":29,"t":95,"y":1.16},{"k":29,"t":97.5,"y":1.02},{"k":29,"t":100,"y":0.87},{"k":29,"t":103,"y":0.67},{"k":29,"t":105,"y":0.53},{"k":29,"t":107,"y":0.42},{"k":29,"t":110,"y":0.27},{"k":29,"t":113,"y":0.19},{"k":29,"t":116,"y":0.14},{"k":29,"t":118,"y":0.1},{"k":29,"t":120,"y":0.08},{"k":29,"t":122,"y":0.065},{"k":29,"t":124,"y":0.04},{"k":29,"t":127,"y":0.015},{"k":29,"t":130,"y":0.006},{"k":29,"t":135,"y":0.005},{"k":29,"t":140,"y":0.005}
]},
"layer": [
 {"data": {"name": "lines"},
  "mark": {"type": "line", "color": "#0000ff", "opacity": 0.21, "strokeWidth": 5, "strokeCap": "round", "strokeJoin": "round", "interpolate": "monotone", "clip": true},
  "encoding": {
   "x": {"field": "t", "type": "quantitative", "title": "Time (sec)", "scale": {"domain": [0, 140], "nice": false, "zero": false}, "axis": {"values": [0, 20, 40, 60, 80, 100, 120, 140], "title": "Time (sec)", "titlePadding": 9}},
   "y": {"field": "y", "type": "quantitative", "title": "Network Bandwidth (TerraBit / sec)", "scale": {"domain": [0, 3], "nice": false}, "axis": {"values": [0, 0.5, 1, 1.5, 2, 2.5, 3], "format": ".1f", "title": "Network Bandwidth (TerraBit / sec)", "titlePadding": 12}},
   "detail": {"field": "k", "type": "nominal"}
  }},
 {"data": {"name": "lines"},
  "transform": [{"filter": "datum.k == 29"}],
  "mark": {"type": "line", "color": "#1f1ff2", "opacity": 0.9, "strokeWidth": 4.5, "strokeCap": "round", "strokeJoin": "round", "interpolate": "monotone", "clip": true},
  "encoding": {
   "x": {"field": "t", "type": "quantitative", "title": "Time (sec)"},
   "y": {"field": "y", "type": "quantitative", "title": "Network Bandwidth (TerraBit / sec)"}
  }},
 {"data": {"values": [{}]},
  "mark": {"type": "rule", "color": "#283593", "strokeWidth": 8},
  "encoding": {
   "x": {"datum": 62.5, "type": "quantitative", "title": "Time (sec)"},
   "x2": {"datum": 77.4},
   "y": {"datum": 2.775, "type": "quantitative", "title": "Network Bandwidth (TerraBit / sec)"}
  }},
 {"data": {"values": [{}]},
  "mark": {"type": "point", "shape": "M -1 0 L 1 -0.71 L 0.42 0 L 1 0.71 Z", "size": 2704, "filled": true, "color": "#283593", "opacity": 1, "strokeWidth": 0},
  "encoding": {
   "x": {"datum": 59.17, "type": "quantitative", "title": "Time (sec)"},
   "y": {"datum": 2.775, "type": "quantitative", "title": "Network Bandwidth (TerraBit / sec)"}
  }},
 {"data": {"values": [{}]},
  "mark": {"type": "text", "text": "> 2.7 TBit per second", "font": "Liberation Sans", "fontWeight": "bold", "fontSize": 42, "color": "#1c2150", "align": "left", "baseline": "alphabetic"},
  "encoding": {
   "x": {"datum": 80.3, "type": "quantitative", "title": "Time (sec)"},
   "y": {"datum": 2.70, "type": "quantitative", "title": "Network Bandwidth (TerraBit / sec)"}
  }}
]
}
